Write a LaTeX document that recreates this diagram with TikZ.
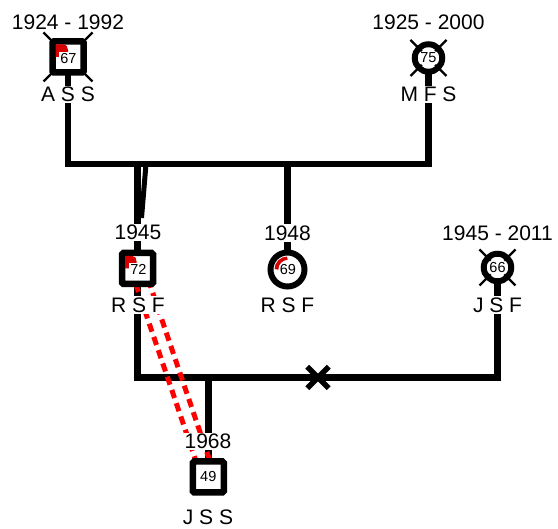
\documentclass[tikz,border=0pt]{standalone}
\usepackage{fontspec}
\setmainfont{Liberation Sans}
\usetikzlibrary{calc,shapes.misc}
\pgfdeclarelayer{bg}
\pgfdeclarelayer{mid}
\pgfsetlayers{bg,mid,main}
\definecolor{ageRed}{RGB}{215,0,0}
\definecolor{lineRed}{RGB}{255,0,0}
\begin{document}
\begin{tikzpicture}[x=1pt,y=-1pt,
  male/.style={draw, line width=6.5pt, rectangle, rounded corners=1.5pt, minimum size=31pt, inner sep=0pt, fill=white},
  female/.style={draw, line width=6pt, circle, minimum size=34pt, inner sep=0pt, fill=white},
  femdead/.style={draw, line width=6pt, circle, minimum size=27.5pt, inner sep=0pt, fill=white},
  lbl/.style={fill=white, inner xsep=1pt, inner ysep=1.5pt, font=\fontsize{21}{24}\selectfont},
  age/.style={fill=white, inner sep=1pt, font=\fontsize{14.5}{16}\selectfont},
  agec/.style={age, circle, inner sep=0pt, minimum size=16pt},
  conn/.style={line width=6.5pt, line join=miter},
  deadx/.style={line width=2.2pt},
  twinline/.style={line width=5pt, draw=lineRed, dash pattern=on 8.5pt off 5.5pt},
  redarc/.style={draw=ageRed, line width=5pt},
  divx/.style={cross out, draw, line width=5.5pt, minimum size=16pt, inner sep=0pt}
]
\useasboundingbox (0,0) rectangle (558,529);

% persons
\node[male] (ass) at (68,57) {};
\node[femdead] (mfs) at (428.5,58) {};
\node[male] (rsf) at (137.5,268.5) {};
\node[female] (rsf2) at (287.5,269.5) {};
\node[femdead] (jsf) at (497.5,267.5) {};
\node[male] (jss) at (208.3,477) {};

% helper coordinates
\coordinate (b1y) at (0,164);
\coordinate (b2y) at (0,377.5);
\coordinate (s1) at (146,164);
\coordinate (s2) at (141.5,218);

% connectors (behind)
\begin{pgfonlayer}{bg}
\draw[conn] (ass.center) -- (ass |- b1y) -- (mfs |- b1y) -- (mfs.center);
\draw[conn] (rsf.center) -- (rsf |- b1y);
\draw[conn, line width=5pt] (s1) -- (s2);
\draw[conn] (rsf2.center) -- (rsf2 |- b1y);
\draw[conn] (rsf.center) -- (rsf |- b2y) -- (jsf |- b2y) -- (jsf.center);
\draw[conn] (jss.center) -- (jss |- b2y);
% deceased cross behind the square
\draw[deadx] ($(ass)+(-24.5,-24.5)$) -- ($(ass)+(24.5,24.5)$);
\draw[deadx] ($(ass)+(24.5,-24.5)$) -- ($(ass)+(-24.5,24.5)$);
\end{pgfonlayer}

\begin{pgfonlayer}{mid}
\draw[twinline] ($(rsf.center)!6.6pt!90:(jss.center)$) -- ($(jss.center)!6.6pt!-90:(rsf.center)$);
\draw[twinline] ($(rsf.center)!6.6pt!-90:(jss.center)$) -- ($(jss.center)!6.6pt!90:(rsf.center)$);
\end{pgfonlayer}

% red age marks in squares
\begin{scope}[shift={(ass.center)}]
\fill[ageRed] (-12.5,0) -- (-12.5,-12.5) -- (-5,-12.5) .. controls (-1.5,-12.5) and (0,-10) .. (0,-7) -- (0,0) -- cycle;
\end{scope}
\begin{scope}[shift={(rsf.center)}]
\fill[ageRed] (-12.5,0) -- (-12.5,-12.5) -- (-5,-12.5) .. controls (-2,-12.5) and (-1,-10) .. (-1,-7) -- (-1,0) -- cycle;
\end{scope}
% red arc in circle
\draw[redarc] ($(rsf2)+(0,-10.5)$) arc[start angle=90, end angle=180, radius=10.5pt];

% deceased crosses over circles
\draw[deadx] ($(mfs)+(-18,-18)$) -- ($(mfs)+(18,18)$);
\draw[deadx] ($(mfs)+(18,-18)$) -- ($(mfs)+(-18,18)$);
\draw[deadx] ($(jsf)+(-18,-18)$) -- ($(jsf)+(18,18)$);
\draw[deadx] ($(jsf)+(18,-18)$) -- ($(jsf)+(-18,18)$);

% ages
\node[age] (a67) at ($(ass)+(0.5,1.5)$) {67};
\node[agec] (a75) at (mfs) {75};
\node[age] (a72) at ($(rsf)+(1,1)$) {72};
\node[agec] (a69) at ($(rsf2)+(0.5,0)$) {69};
\node[agec] (a66) at (jsf) {66};
\node[age] (a49) at (jss) {49};

% divorce mark
\node[divx] (div) at (318,377.5) {};

% labels
\node[lbl] (y1) at (68,22.5) {1924 - 1992};
\node[lbl] (n1) at (68,94.5) {A S S};
\node[lbl] (y2) at (428.5,22.5) {1925 - 2000};
\node[lbl] (n2) at (428.5,94.5) {M F S};
\node[lbl] (y3) at (138,232.5) {1945};
\node[lbl] (n3) at (138,305) {R S F};
\node[lbl] (y4) at (287.5,233) {1948};
\node[lbl] (n4) at (287.5,305) {R S F};
\node[lbl] (y5) at (497.5,233) {1945 - 2011};
\node[lbl] (n5) at (497.5,305) {J S F};
\node[lbl] (y6) at (208,441.5) {1968};
\node[lbl] (n6) at (208,517) {J S S};
\end{tikzpicture}
\end{document}
